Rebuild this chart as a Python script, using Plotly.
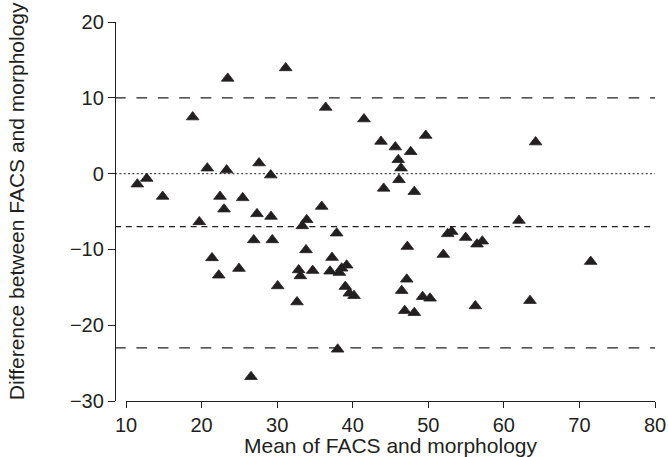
import plotly.graph_objects as go

# Bland-Altman data: mean of FACS and morphology (x) vs difference (y)
mean_vals = [23.46, 31.13, 18.82, 20.76, 23.32, 27.6, 29.15, 11.5, 12.74, 14.85,
             22.44, 25.44, 22.97, 27.33, 29.19, 33.91, 33.33, 19.7, 26.9, 29.36,
             33.82, 21.38, 22.27, 24.95, 32.85, 33.07, 34.7, 30.07, 32.63, 26.54,
             44.1, 46.12, 48.15, 35.9, 37.88, 37.26, 37.0, 38.54, 39.2, 38.23,
             39.02, 39.55, 40.17, 38.01, 47.23, 47.15, 46.48, 46.88, 48.15, 49.25,
             50.23, 52.57, 53.1, 54.95, 56.45, 57.15, 51.99, 56.23, 62.0, 71.49,
             63.46, 36.42, 41.49, 43.74, 45.64, 47.67, 49.66, 46.03, 46.39, 64.2]
diff_vals = [12.56, 13.94, 7.46, 0.72, 0.46, 1.39, -0.2, -1.39, -0.65, -3.02,
             -3.02, -3.2, -4.69, -5.31, -5.66, -6.1, -6.9, -6.37, -8.75, -8.75,
             -10.07, -11.12, -13.41, -12.53, -12.71, -13.5, -12.8, -14.82, -16.94, -26.8,
             -1.95, -0.82, -2.38, -4.34, -7.86, -11.08, -12.88, -12.49, -12.09, -13.06,
             -14.91, -15.79, -16.1, -23.18, -9.63, -13.94, -15.44, -18.08, -18.35, -16.24,
             -16.45, -7.95, -7.65, -8.44, -9.31, -8.92, -10.68, -17.46, -6.19, -11.61,
             -16.76, 8.73, 7.2, 4.24, 3.5, 2.88, 5.03, 1.82, 0.72, 4.16]

zero_line = 0
mean_diff = -7
upper_limit = 10
lower_limit = -23

x_ticks = [10, 20, 30, 40, 50, 60, 70, 80]
y_ticks = [-30, -20, -10, 0, 10, 20]

x_title = "Mean of FACS and morphology"
y_title = "Difference between FACS and morphology"

ink = "#231f20"
font_family = "Arial, 'Liberation Sans', Helvetica, sans-serif"

fig = go.Figure()

ref_lines = [
    (upper_limit, "10.7px,10.7px", ink, 1.2),
    (lower_limit, "10.7px,10.7px", ink, 1.2),
    (mean_diff, "6px,4.8px", ink, 1.2),
    (zero_line, "2px,2.35px", "#4a4a4a", 1.3),
]
for val, dash, col, w in ref_lines:
    fig.add_shape(type="line", xref="paper", x0=0, x1=1, yref="y", y0=val, y1=val,
                  line=dict(color=col, width=w, dash=dash), layer="below")

fig.add_trace(go.Scatter(
    x=mean_vals, y=diff_vals, mode="markers",
    marker=dict(symbol="triangle-up", size=11, color=ink,
                line=dict(width=0.8, color=ink)),
    showlegend=False, hoverinfo="skip", cliponaxis=False))

fig.add_annotation(text=x_title, xref="x domain", yref="y domain", x=0.5, y=-0.118,
                   xanchor="center", yanchor="middle", showarrow=False,
                   font=dict(family=font_family, size=21, color=ink))
fig.add_annotation(text=y_title, xref="paper", yref="paper", x=-0.181, y=0.528,
                   xanchor="center", yanchor="middle", showarrow=False, textangle=-90,
                   font=dict(family=font_family, size=21, color=ink))

fig.update_layout(
    width=668, height=457,
    margin=dict(l=115, r=13, t=22, b=56, pad=0, autoexpand=False),
    paper_bgcolor="white", plot_bgcolor="white",
    font=dict(family=font_family, size=20, color=ink),
    xaxis=dict(domain=[11 / 540, 1], range=[10, 80], anchor="y", automargin=False,
               showline=True, linecolor=ink, linewidth=1.3,
               ticks="outside", ticklen=6, tickwidth=1.3, tickcolor=ink,
               tickvals=x_ticks, showgrid=False, zeroline=False,
               tickfont=dict(size=20, color=ink)),
    yaxis=dict(domain=[0, 1], range=[-30, 20], anchor="free", position=0, automargin=False,
               showline=True, linecolor=ink, linewidth=1.3,
               ticks="outside", ticklen=7, tickwidth=1.3, tickcolor=ink,
               tickvals=y_ticks, showgrid=False, zeroline=False,
               tickfont=dict(size=20, color=ink)),
)

fig.write_html("out.html")
